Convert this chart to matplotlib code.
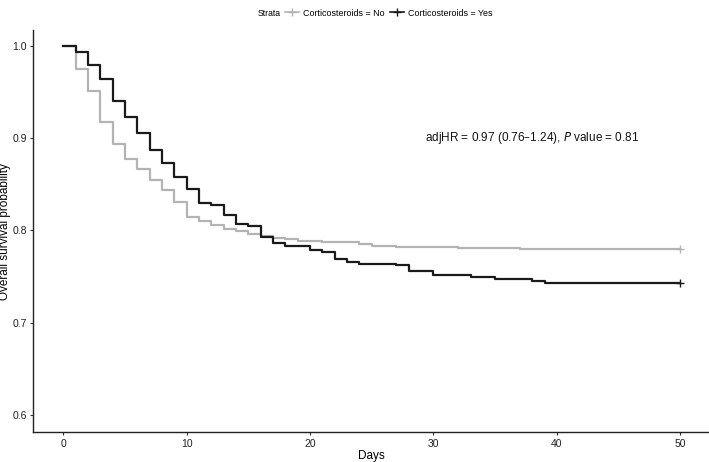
import matplotlib
matplotlib.use("Agg")
import matplotlib.pyplot as plt
from matplotlib.lines import Line2D

plt.rcParams['font.family'] = ['Liberation Sans', 'DejaVu Sans']

# Kaplan-Meier step data
yes_times = [0, 1, 2, 3, 4, 5, 6, 7, 8, 9, 10, 11, 12, 13, 14, 15, 16, 17, 18,
             20, 21, 22, 23, 24, 27, 28, 30, 33, 35, 38, 39, 50]
yes_surv = [1.0, 0.993, 0.979, 0.964, 0.940, 0.923, 0.905, 0.887, 0.873, 0.858,
            0.845, 0.830, 0.827, 0.817, 0.807, 0.805, 0.793, 0.786, 0.783,
            0.779, 0.777, 0.769, 0.766, 0.764, 0.762, 0.756, 0.752, 0.750,
            0.747, 0.745, 0.743, 0.743]

no_times = [0, 1, 2, 3, 4, 5, 6, 7, 8, 9, 10, 11, 12, 13, 14, 15, 16, 17, 18,
            19, 20, 21, 24, 25, 27, 32, 37, 50]
no_surv = [1.0, 0.975, 0.951, 0.917, 0.894, 0.877, 0.867, 0.855, 0.844, 0.831,
           0.815, 0.810, 0.806, 0.801, 0.799, 0.796, 0.794, 0.792, 0.791,
           0.789, 0.788, 0.787, 0.785, 0.783, 0.782, 0.781, 0.780, 0.780]

strata_labels = ["Corticosteroids = No", "Corticosteroids = Yes"]
x_ticks = [0, 10, 20, 30, 40, 50]
y_ticks = [0.6, 0.7, 0.8, 0.9, 1.0]

col_no = "#b3b3b3"
col_yes = "#1a1a1a"

fig = plt.figure(figsize=(7.09, 4.62), dpi=100)
ax = fig.add_axes([33 / 709, 1 - 432.3 / 462, 1 - 33 / 709, (432.3 - 30) / 462])

ax.step(no_times, no_surv, where="post", color=col_no, lw=1.6)
ax.step(yes_times, yes_surv, where="post", color=col_yes, lw=1.6)
ax.plot([no_times[-1]], [no_surv[-1]], marker="+", color=col_no, ms=6, mew=1.0)
ax.plot([yes_times[-1]], [yes_surv[-1]], marker="+", color=col_yes, ms=6, mew=1.0)

ax.set_xlim(-2.46, 52.33)
ax.set_ylim(0.5813, 1.017)
ax.set_xticks(x_ticks)
ax.set_yticks(y_ticks)
ax.set_xticklabels([str(v) for v in x_ticks])
ax.set_yticklabels([f"{v:.1f}" for v in y_ticks])
ax.tick_params(labelsize=7.5, length=2.5, width=0.8, pad=2,
               colors="#333333", labelcolor="#222222")
for s in ["top", "right"]:
    ax.spines[s].set_visible(False)
for s in ["left", "bottom"]:
    ax.spines[s].set_linewidth(1.0)
    ax.spines[s].set_color("#222222")

ax.set_xlabel("Days", fontsize=8.5, labelpad=1)
ax.set_ylabel("Overall survival probability", fontsize=8.5, labelpad=1)

ax.text(38, 0.9, r"adjHR = 0.97 (0.76–1.24), $\it{P}$ value = 0.81",
        fontsize=8.5, ha="center", va="center", color="#111111")

# legend on top
fig.text(258 / 709, 1 - 13 / 462, "Strata", fontsize=6.2, ha="left", va="center")
handles = [Line2D([0], [0], color=col_no, lw=1.2, marker="+", ms=6, mew=1.0),
           Line2D([0], [0], color=col_yes, lw=1.2, marker="+", ms=6, mew=1.0)]
fig.legend(handles, strata_labels, loc="center left",
           bbox_to_anchor=(285 / 709, 1 - 13 / 462), ncol=2, frameon=False,
           fontsize=6.4, handlelength=1.6, handletextpad=0.4, columnspacing=0.6,
           borderaxespad=0, borderpad=0)

fig.savefig("out.png", dpi=100)
